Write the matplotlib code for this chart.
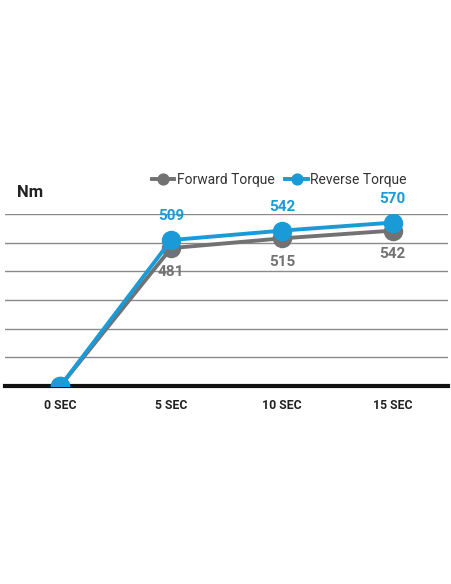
import matplotlib
matplotlib.use("Agg")
import matplotlib.pyplot as plt

categories = ["0 SEC", "5 SEC", "10 SEC", "15 SEC"]
forward = [0, 481, 515, 542]
reverse = [0, 509, 542, 570]
yticks = [0, 100, 200, 300, 400, 500, 600]

GRAY = "#727272"
BLUE = "#1a9bd7"

plt.rcParams['font.family'] = ['Roboto', 'DejaVu Sans']

fig = plt.figure(figsize=(4.52, 5.84), dpi=100)
ax = fig.add_axes([5/452, 1-386/584, 443/452, (386-214)/584])

x = list(range(len(categories)))
ax.plot(x, forward, color=GRAY, lw=2.8, marker='o', ms=13, zorder=3, label="Forward Torque")
ax.plot(x, reverse, color=BLUE, lw=2.8, marker='o', ms=13, zorder=4, label="Reverse Torque")

for i, (f, r) in enumerate(zip(forward, reverse)):
    if r:
        ax.annotate(str(r), (i, r), xytext=(0, 12), textcoords='offset points',
                    ha='center', va='bottom', color=BLUE, fontsize=11, fontweight='bold')
    if f:
        ax.annotate(str(f), (i, f), xytext=(0, -12), textcoords='offset points',
                    ha='center', va='top', color=GRAY, fontsize=11, fontweight='bold')

ax.set_xlim(-0.5, len(categories) - 0.5)
ax.set_ylim(0, 600)
ax.set_yticks(yticks)
ax.yaxis.grid(True, color="#8a8a8a", lw=1.0)
ax.set_axisbelow(True)
ax.tick_params(axis='y', left=False, labelleft=False)
ax.tick_params(axis='x', bottom=False, pad=6)
ax.set_xticks(x)
ax.set_xticklabels(categories, fontsize=8.8, fontweight='bold', color="#222222")
for s in ['top', 'right', 'left']:
    ax.spines[s].set_visible(False)
ax.spines['bottom'].set_linewidth(3)
ax.spines['bottom'].set_color('#111111')
ax.spines['bottom'].set_zorder(2)

fig.text(17/452, 1-193/584, "Nm", fontsize=12, fontweight='bold', color="#222222", va='center', ha='left')

leg = fig.legend(handles=ax.get_lines(), loc='center right', bbox_to_anchor=(407/452, 1-180/584),
                 ncol=2, frameon=False, fontsize=10, handlelength=1.6, handletextpad=0.2,
                 columnspacing=0.8, markerscale=0.6, borderaxespad=0, borderpad=0)
for t in leg.get_texts():
    t.set_color("#333333")

fig.savefig("out.png", dpi=100, facecolor='white')
